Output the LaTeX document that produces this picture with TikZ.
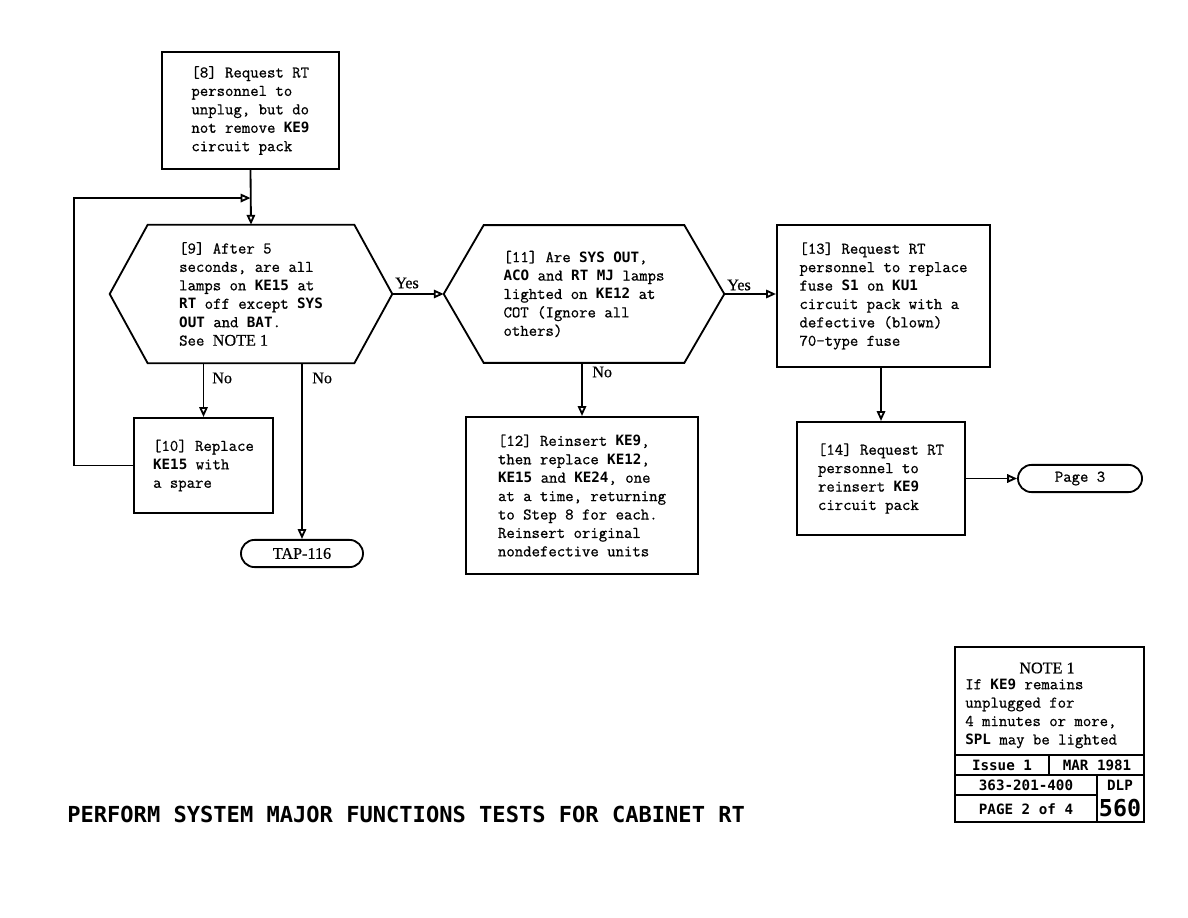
\documentclass[tikz,border=0pt]{standalone}
\usepackage{fontspec}
\setmonofont[FakeBold=0.8]{Latin Modern Mono}
\newfontfamily\gothic[Scale=0.872]{DejaVu Sans Mono}
\newfontfamily\notefont[FakeBold=0.6]{Liberation Serif}
\usetikzlibrary{arrows.meta}
\newcommand\kc[1]{{\gothic\bfseries #1}}
\newcommand\boxfont{\ttfamily\fontsize{11.6pt}{13.1pt}\selectfont}
\newcommand\labfont{\notefont\fontsize{11.5pt}{12pt}\selectfont}
\tikzset{
  stepbox/.style={draw, line width=1.3pt, align=left, font=\boxfont, inner sep=0pt},
  hexbox/.style={align=left, font=\boxfont, inner sep=0pt},
  hexline/.style={line width=1.3pt, line join=miter},
  termbox/.style={draw, line width=1.3pt, rounded corners=0.34cm, minimum width=3.05cm,
    minimum height=0.68cm, inner sep=0pt},
  arr/.style={line width=1.3pt, -{Triangle[open, length=7pt, width=6pt]}},
  lab/.style={font=\labfont, inner sep=0pt},
  cell/.style={font=\gothic\bfseries\fontsize{11.6pt}{12pt}\selectfont, inner sep=0pt},
}
\begin{document}
\begin{tikzpicture}[x=0.025cm, y=-0.025cm]
\useasboundingbox (0,0) rectangle (1188,918);

% steps
\node[stepbox, minimum width=4.43cm, minimum height=2.93cm] (b8) at (250.5,110.5)
  {[8] Request RT\\personnel to\\unplug, but do\\not remove \kc{KE9}\\circuit pack};

\node[hexbox, minimum width=5.15cm, minimum height=3.45cm] (q9) at (251,294)
  {[9] After 5\\seconds, are all\\lamps on \kc{KE15} at\\\kc{RT} off except \kc{SYS}\\\kc{OUT} and \kc{BAT}.\\See {\labfont NOTE 1}};
\coordinate (q9w) at ([xshift=-0.95cm]q9.west);
\coordinate (q9e) at ([xshift=0.95cm]q9.east);
\draw[hexline] (q9.north west) -- (q9.north east) -- (q9e) -- (q9.south east)
  -- (q9.south west) -- (q9w) -- cycle;

\node[hexbox, minimum width=5.0cm, minimum height=3.43cm] (q11) at (584,294)
  {[11] Are \kc{SYS OUT},\\\kc{ACO} and \kc{RT MJ} lamps\\lighted on \kc{KE12} at\\COT (Ignore all\\others)};
\coordinate (q11w) at ([xshift=-1.0cm]q11.west);
\coordinate (q11e) at ([xshift=1.0cm]q11.east);
\draw[hexline] (q11.north west) -- (q11.north east) -- (q11e) -- (q11.south east)
  -- (q11.south west) -- (q11w) -- cycle;

\node[stepbox, minimum width=5.33cm, minimum height=3.55cm] (b13) at (883.5,296)
  {[13] Request RT\\personnel to replace\\fuse \kc{S1} on \kc{KU1}\\circuit pack with a\\defective (blown)\\70-type fuse};
\node[stepbox, minimum width=4.2cm, minimum height=2.83cm] (b14) at (881,478.5)
  {[14] Request RT\\personnel to\\reinsert \kc{KE9}\\circuit pack};
\node[stepbox, minimum width=3.48cm, minimum height=2.38cm] (b10) at (203.5,465.5)
  {[10] Replace\\\kc{KE15} with\\a spare};
\node[stepbox, minimum width=5.8cm, minimum height=3.93cm] (b12) at (582,495.5)
  {[12] Reinsert \kc{KE9},\\then replace \kc{KE12},\\\kc{KE15} and \kc{KE24}, one\\at a time, returning\\to Step 8 for each.\\Reinsert original\\nondefective units};

\node[termbox, font=\labfont] (tap) at (302,553.5) {TAP-116};
\node[termbox, minimum width=3.1cm, font=\boxfont] (pg3) at (1080,478.5) {Page 3};

% connectors
\coordinate (join) at ([yshift=-0.7cm]b8.south);
\draw[arr] (b8.south) -- (q9.north);
\draw[arr] (b10.west) -- ++(-59,0) |- (join);
\draw[arr] (q9e) -- (q11w);
\draw[arr] (q11e) -- (q11e -| b13.west);
\draw[arr] (b10.north |- q9.south) -- (b10.north);
\draw[arr] (tap.north |- q9.south) -- (tap.north);
\draw[arr] (b12.north |- q11.south) -- (b12.north);
\draw[arr] (b14.north |- b13.south) -- (b14.north);
\draw[arr] (b14.east) -- (pg3.west);

\node[lab, anchor=west] (yes1) at (395,283) {Yes};
\node[lab, anchor=west] (yes2) at (727,285) {Yes};
\node[lab, anchor=west] (no1) at (212,378) {No};
\node[lab, anchor=west] (no2) at (312,378) {No};
\node[lab, anchor=west] (no3) at (592,372) {No};

% note and title block
\draw[line width=1.4pt] (955,647) rectangle (1144,822);
\draw[line width=1.2pt] (955,755) -- (1144,755);
\draw[line width=1.2pt] (955,775) -- (1144,775);
\draw[line width=1.2pt] (1049,755) -- (1049,775);
\draw[line width=1.2pt] (955,795) -- (1097,795);
\draw[line width=1.2pt] (1097,775) -- (1097,822);
\node[lab] (notehead) at (1047,668) {NOTE 1};
\node[hexbox, anchor=west] (notetext) at (965,713.5)
  {If \kc{KE9} remains\\unplugged for\\4 minutes or more,\\\kc{SPL} may be lighted};
\node[cell] (issue) at (1002,765) {Issue 1};
\node[cell] (date) at (1097,765) {MAR 1981};
\node[cell] (docno) at (1026,785) {363-201-400};
\node[cell] (dlp) at (1120,785) {DLP};
\node[cell] (pageno) at (1026,809) {PAGE 2 of 4};
\node[cell, font=\gothic\bfseries\fontsize{19pt}{19pt}\selectfont] (num) at (1120,808) {560};

\node[anchor=west, inner sep=0pt, font=\gothic\bfseries\fontsize{18pt}{18pt}\selectfont] (title)
  at (67,814) {PERFORM SYSTEM MAJOR FUNCTIONS TESTS FOR CABINET RT};

\end{tikzpicture}
\end{document}
